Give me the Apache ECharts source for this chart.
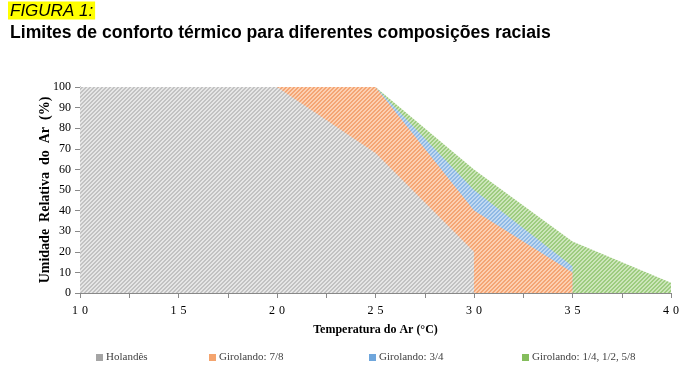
<!DOCTYPE html>
<html><head><meta charset="utf-8">
<script src="https://cdn.jsdelivr.net/npm/echarts@6/dist/echarts.min.js"></script>
<style>html,body{margin:0;padding:0;background:#fff}#c{width:700px;height:374px}</style>
</head><body><div id="c"></div>
<script>
// Data (temperature °C, relative humidity %)
const seriesNames = ['Holandês', 'Girolando: 7/8', 'Girolando: 3/4', 'Girolando: 1/4, 1/2, 5/8'];
const holandesX = [10, 20, 25, 30];
const holandesY = [100, 100, 68, 20];
const giro78X = [10, 25, 30, 35];
const giro78Y = [100, 100, 40, 10];
const giro34X = [10, 25, 30, 35];
const giro34Y = [100, 100, 50, 13];
const giroOutrosX = [10, 25, 30, 35, 40];
const giroOutrosY = [100, 100, 60, 25, 5];
const xTicks = [10, 15, 20, 25, 30, 35, 40];
const yTicks = [0, 10, 20, 30, 40, 50, 60, 70, 80, 90, 100];

function pattern(light, dark) {
  const n = 4;
  const c = document.createElement('canvas');
  c.width = n; c.height = n;
  const g = c.getContext('2d');
  for (let x = 0; x < n; x++) for (let y = 0; y < n; y++) {
    g.fillStyle = ((x + y) % n < 2) ? dark : light;
    g.fillRect(x, y, 1, 1);
  }
  return { image: c, repeat: 'repeat' };
}
function pts(xs, ys) { return xs.map((x, i) => [x, ys[i]]); }

const fills = [
  pattern('#e6e6e6', '#c2c2c2'),
  pattern('#fcd0b2', '#f4a574'),
  pattern('#c2daf2', '#8fb9e4'),
  pattern('#cce5ba', '#9dcc7f')
];
const legendColors = ['#a5a5a5', '#f4a46e', '#6fa6dc', '#84bd5c'];
const dataSets = [pts(holandesX, holandesY), pts(giro78X, giro78Y), pts(giro34X, giro34Y), pts(giroOutrosX, giroOutrosY)];
const legendLeft = [96, 209, 369, 522];

const chart = echarts.init(document.getElementById('c'), null, { renderer: 'canvas' });
const serif = 'Liberation Serif';
chart.setOption({
  animation: false,
  title: [
    { text: '{h|FIGURA 1:}', left: 8, top: 1, padding: 0,
      textStyle: { fontWeight: 'normal', rich: { h: { fontFamily: 'Liberation Sans', fontStyle: 'italic', fontWeight: 'normal', fontSize: 17, color: '#000',
        backgroundColor: '#ffff00', padding: [1, 2, 0, 2], lineHeight: 19 } } } },
    { text: 'Limites de conforto térmico para diferentes composições raciais', left: 10, top: 24, padding: 0,
      textStyle: { fontFamily: 'Liberation Sans', fontWeight: 'bold', fontSize: 17.6, color: '#000' } }
  ],
  legend: seriesNames.map((n, i) => ({
    data: [{ name: n, itemStyle: { color: legendColors[i] } }],
    left: legendLeft[i], top: 352, itemWidth: 7, itemHeight: 7, itemGap: 0, icon: 'rect', padding: 0,
    textStyle: { fontFamily: serif, fontSize: 11, color: '#404040', padding: [0, 0, 0, -2] }
  })),
  grid: { left: 80, right: 29, top: 87, bottom: 81, containLabel: false },
  xAxis: {
    type: 'value', min: 10, max: 40, interval: 2.5,
    name: 'Temperatura do Ar (°C)', nameLocation: 'middle', nameGap: 31, nameMoveOverlap: false,
    nameTextStyle: { fontFamily: serif, fontWeight: 'bold', fontSize: 12, color: '#000' },
    axisLine: { lineStyle: { color: '#898989', width: 1 } },
    axisTick: { show: true, length: 5, lineStyle: { color: '#898989' } },
    axisLabel: { margin: 12, fontFamily: serif, fontSize: 12, color: '#000',
      formatter: v => xTicks.indexOf(v) >= 0 ? String(v).split('').join('\u2004') : '' },
    splitLine: { show: false }
  },
  yAxis: {
    type: 'value', min: 0, max: 100, interval: 10,
    name: 'Umidade  Relativa  do  Ar  (%)', nameLocation: 'middle', nameGap: 28, nameRotate: 90, nameMoveOverlap: false,
    nameTextStyle: { fontFamily: serif, fontWeight: 'bold', fontSize: 14, color: '#000' },
    axisLine: { show: true, lineStyle: { color: '#898989', width: 1 } },
    axisTick: { show: true, length: 5, lineStyle: { color: '#898989' } },
    axisLabel: { margin: 9, fontFamily: serif, fontSize: 12, color: '#000',
      formatter: v => yTicks.indexOf(v) >= 0 ? String(v) : '' },
    splitLine: { show: false }
  },
  series: [3, 2, 1, 0].map(i => ({
    name: seriesNames[i], type: 'line', data: dataSets[i], symbol: 'none',
    lineStyle: { width: 0 }, itemStyle: { color: legendColors[i] },
    areaStyle: { color: fills[i], opacity: 1 }, z: 2 + (3 - i)
  }))
});
</script></body></html>
